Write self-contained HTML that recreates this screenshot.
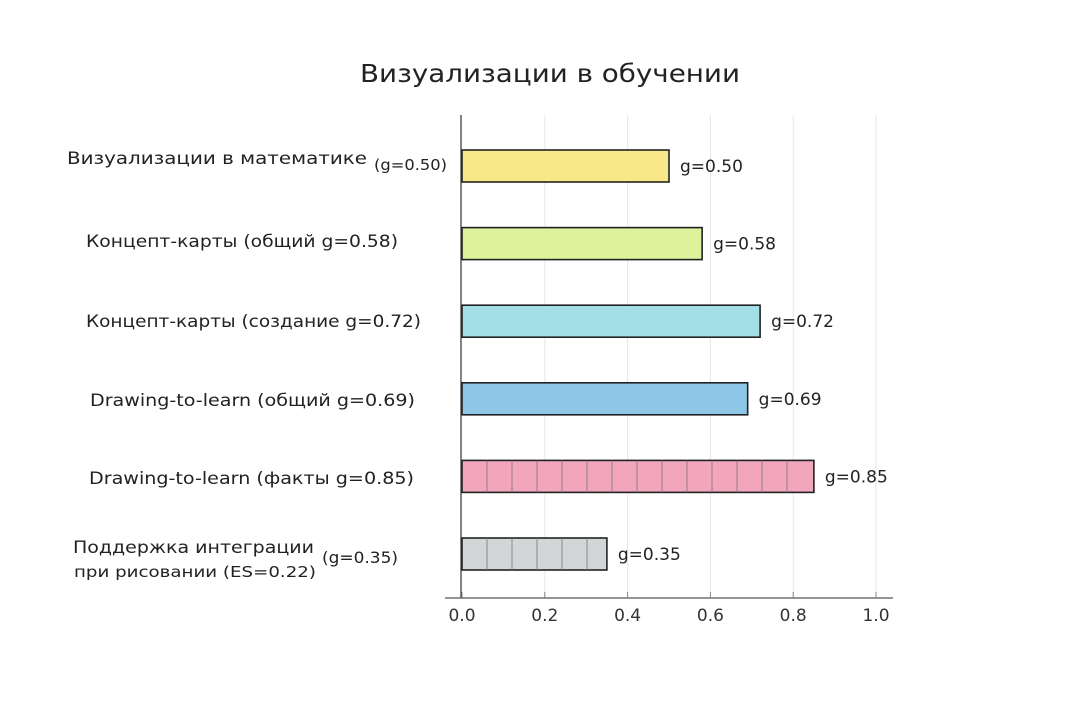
<!DOCTYPE html>
<html><head><meta charset="utf-8">
<style>
body{margin:0;background:#fff;}
svg{display:block;font-family:"DejaVu Sans","Liberation Sans",sans-serif;}
</style></head>
<body>
<svg id="chart" width="1080" height="716" viewBox="0 0 1080 716">
<text x="360" y="82" textLength="380" lengthAdjust="spacingAndGlyphs" font-size="25" fill="#222">Визуализации в обучении</text>
<g id="grid"></g>
<g id="bars"></g>
<g id="labels"></g>
<line x1="461" y1="115" x2="461" y2="598" stroke="#333" stroke-width="1.2"/>
<line x1="445" y1="598" x2="893" y2="598" stroke="#555" stroke-width="1.2"/>
<g id="ticks"></g>
</svg>
<script>
const categories = ["Визуализации в математике", "Концепт-карты (общий g=0.58)", "Концепт-карты (создание g=0.72)", "Drawing-to-learn (общий g=0.69)", "Drawing-to-learn (факты g=0.85)", "Поддержка интеграции"];
const values = [0.50, 0.58, 0.72, 0.69, 0.85, 0.35];
const valueLabels = ["g=0.50", "g=0.58", "g=0.72", "g=0.69", "g=0.85", "g=0.35"];
const tickValues = [0, 0.2, 0.4, 0.6, 0.8, 1.0];
const tickLabels = ["0.0", "0.2", "0.4", "0.6", "0.8", "1.0"];
const colors = ["#f9e88a", "#ddf29a", "#a3dfe6", "#8ec6e8", "#f2a6bb", "#d3d6d6"];

const NS = "http://www.w3.org/2000/svg";
const x = v => 462 + v * 414;
const y = i => 166 + i * 77.6;
const bh = 32;
function mk(tag, attrs, parent, txt){
  const e = document.createElementNS(NS, tag);
  for (const k in attrs) e.setAttribute(k, attrs[k]);
  if (txt !== undefined) e.textContent = txt;
  parent.appendChild(e); return e;
}
const grid = document.getElementById('grid'), bars = document.getElementById('bars'),
      labels = document.getElementById('labels'), ticks = document.getElementById('ticks');
tickValues.forEach((t, i) => {
  if (i > 0) {
    const g = mk('line', {x1: x(t), x2: x(t), y1: 115, y2: 598, stroke: '#e6e6e6', 'stroke-width': 1}, grid);
    
    
  }
  const tk = mk('line', {x1: x(t), x2: x(t), y1: 592, y2: 598, stroke: '#888', 'stroke-width': 1}, ticks);
  
  
  const tl = mk('text', {x: x(t), y: 621, 'text-anchor': 'middle', 'font-size': 17, fill: '#333'}, ticks, tickLabels[i]);
  
  
});
values.forEach((v, i) => {
  const cy = y(i), x0 = x(0), x1 = x(v);
  const r = mk('rect', {x: x0, y: cy - bh/2, width: x1 - x0, height: bh, fill: colors[i], stroke: '#222', 'stroke-width': 1.6}, bars);
  
  
  if (i >= 4) {
    for (let sx = x0 + 25; sx < x1 - 5; sx += 25) {
      const s = mk('line', {x1: sx, x2: sx, y1: cy - bh/2, y2: cy + bh/2, stroke: '#777', 'stroke-width': 0.8}, bars);
      
      
    }
  }
  const vl = mk('text', {x: x1 + 11, y: cy + 6, 'font-size': 17, fill: '#222'}, labels, valueLabels[i]);
  
  
});
function cat(txt, x0, x1, yy, size){
  const t = mk('text', {x: x0, y: yy, 'font-size': size, fill: '#222', textLength: x1 - x0, lengthAdjust: 'spacingAndGlyphs'}, labels, txt);
  
  
}
cat(categories[0], 67, 367, 164, 17);
cat("(g=0.50)", 374, 447, 170, 15);
cat(categories[1], 86, 398, 247, 17);
cat(categories[2], 86, 421, 327, 17);
cat(categories[3], 90, 415, 406, 17);
cat(categories[4], 89, 414, 484, 17);
cat(categories[5], 73, 314, 553, 17);
cat("при рисовании (ES=0.22)", 74, 316, 577, 15);
cat("(g=0.35)", 322, 398, 563, 16);
</script>
</body></html>
